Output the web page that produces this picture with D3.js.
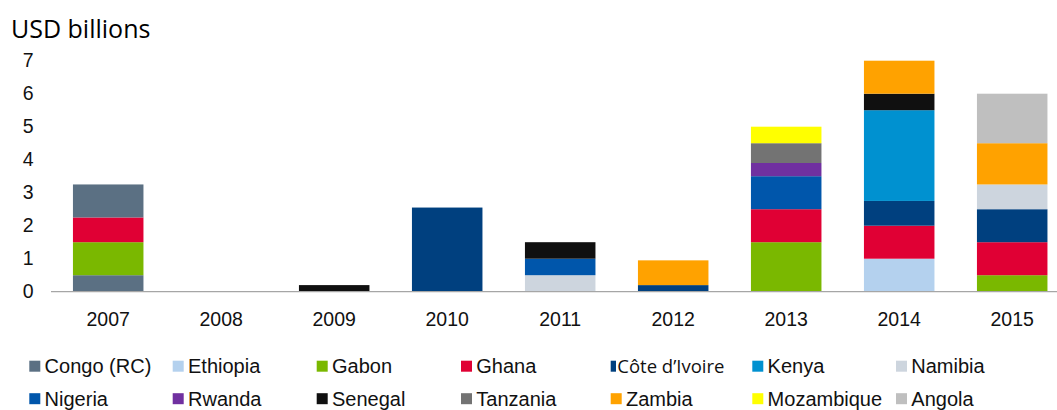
<!DOCTYPE html>
<html>
<head>
<meta charset="utf-8">
<script src="https://cdn.jsdelivr.net/npm/d3@7/dist/d3.min.js"></script>
<style>
  html, body { margin: 0; padding: 0; background: #fff; }
  svg { display: block; }
</style>
</head>
<body>
<svg id="chart" width="1057" height="410"></svg>
<script>
// Eurobond issuance by sub-Saharan African sovereigns, USD billions
const years = ["2007", "2008", "2009", "2010", "2011", "2012", "2013", "2014", "2015"];

const congoRC       = [0.5,  0, 0,   0,    0,   0,    0,   0,    0];
const ethiopia      = [0,    0, 0,   0,    0,   0,    0,   1.0,  0];
const gabon         = [1.0,  0, 0,   0,    0,   0,    1.5, 0,    0.5];
const ghana         = [0.75, 0, 0,   0,    0,   0,    1.0, 1.0,  1.0];
const coteDIvoire   = [0,    0, 0,   2.55, 0,   0.2,  0,   0.75, 1.0];
const kenya         = [0,    0, 0,   0,    0,   0,    0,   2.75, 0];
const namibia       = [0,    0, 0,   0,    0.5, 0,    0,   0,    0.75];
const nigeria       = [0,    0, 0,   0,    0.5, 0,    1.0, 0,    0];
const rwanda        = [0,    0, 0,   0,    0,   0,    0.4, 0,    0];
const senegal       = [0,    0, 0.2, 0,    0.5, 0,    0,   0.5,  0];
const tanzania      = [0,    0, 0,   0,    0,   0,    0.6, 0,    0];
const zambia        = [0,    0, 0,   0,    0,   0.75, 0,   1.0,  1.25];
const mozambique    = [0,    0, 0,   0,    0,   0,    0.5, 0,    0];
const angola        = [0,    0, 0,   0,    0,   0,    0,   0,    1.5];
// second Congo (RC) tranche in 2007, stacked on top of that year's bar
const congoRCSecond = [1.0,  0, 0,   0,    0,   0,    0,   0,    0];

const yTicks = [0, 1, 2, 3, 4, 5, 6, 7];

// legend entries, in the order they are listed (two rows of seven)
const legendNames = [
  "Congo (RC)", "Ethiopia", "Gabon", "Ghana", "Côte d’Ivoire", "Kenya", "Namibia",
  "Nigeria", "Rwanda", "Senegal", "Tanzania", "Zambia", "Mozambique", "Angola"
];

// stacking order, bottom to top
const series = [
  { key: "Congo (RC)",      values: congoRC },
  { key: "Ethiopia",        values: ethiopia },
  { key: "Gabon",           values: gabon },
  { key: "Ghana",           values: ghana },
  { key: "Côte d’Ivoire",   values: coteDIvoire },
  { key: "Kenya",           values: kenya },
  { key: "Namibia",         values: namibia },
  { key: "Nigeria",         values: nigeria },
  { key: "Rwanda",          values: rwanda },
  { key: "Senegal",         values: senegal },
  { key: "Tanzania",        values: tanzania },
  { key: "Zambia",          values: zambia },
  { key: "Mozambique",      values: mozambique },
  { key: "Angola",          values: angola },
  { key: "Congo (RC) II",   values: congoRCSecond }
];

const colors = {
  "Congo (RC)":    "#5b7083",
  "Ethiopia":      "#b4d1ee",
  "Gabon":         "#7ab800",
  "Ghana":         "#e00034",
  "Côte d’Ivoire": "#00407f",
  "Kenya":         "#0091d0",
  "Namibia":       "#cdd5de",
  "Nigeria":       "#0056ab",
  "Rwanda":        "#7030a0",
  "Senegal":       "#101010",
  "Tanzania":      "#737373",
  "Zambia":        "#ffa200",
  "Mozambique":    "#ffff00",
  "Angola":        "#bfbfbf",
  "Congo (RC) II": "#5b7083"
};

// ---- layout ----
const svg = d3.select("#chart");
const W = 1057, H = 410;
const axisFont = "'Liberation Sans', Arial, sans-serif";
const textColor = "#111";

const table = years.map((yr, i) => {
  const row = { year: yr };
  series.forEach(s => { row[s.key] = s.values[i]; });
  return row;
});

const x = d3.scaleBand()
  .domain(years)
  .range([51.7, 1068.7])
  .paddingInner(0.376)
  .paddingOuter(0.188);

const y = d3.scaleLinear().domain([0, 7]).range([291.7, 60.7]);

const stacked = d3.stack().keys(series.map(s => s.key))(table);

// bars
const g = svg.append("g");
g.selectAll("g.layer")
  .data(stacked)
  .join("g")
  .attr("class", "layer")
  .attr("fill", d => colors[d.key])
  .selectAll("rect")
  .data(d => d.filter(p => p[1] - p[0] > 0))
  .join("rect")
  .attr("x", d => x(d.data.year))
  .attr("width", x.bandwidth())
  .attr("y", d => y(d[1]))
  .attr("height", d => y(d[0]) - y(d[1]));

// baseline
svg.append("line")
  .attr("x1", 51).attr("x2", W)
  .attr("y1", y(0)).attr("y2", y(0))
  .attr("stroke", "#a6a6a6")
  .attr("stroke-width", 1.2);

// y axis labels (no axis line)
const yAxis = d3.axisLeft(y).tickValues(yTicks).tickFormat(d3.format("d")).tickSize(0).tickPadding(0);
const yG = svg.append("g").attr("transform", "translate(33.5,0)").call(yAxis);
yG.select(".domain").remove();
yG.selectAll("text")
  .attr("font-family", axisFont)
  .attr("font-size", 19.5)
  .attr("fill", textColor);

// x axis labels
const xAxis = d3.axisBottom(x).tickSize(0).tickPadding(0);
const xG = svg.append("g").call(xAxis);
xG.select(".domain").remove();
xG.selectAll("text")
  .attr("y", 326)
  .attr("dy", 0)
  .attr("font-family", axisFont)
  .attr("font-size", 19.5)
  .attr("fill", textColor);

// unit title
svg.append("text")
  .attr("x", 11)
  .attr("y", 37.5)
  .attr("font-family", "'Open Sans', sans-serif")
  .attr("font-size", 25)
  .attr("fill", "#000")
  .text("USD billions");

// legend
const colX = [29.3, 172.7, 316.7, 461, 610.7, 752.3, 896];
const rowY = [360.7, 393.2];
const legend = svg.append("g");
legendNames.forEach((name, i) => {
  const col = i % 7, row = Math.floor(i / 7);
  const narrow = name === "Côte d’Ivoire";
  const sw = narrow ? 5.3 : 11;
  legend.append("rect")
    .attr("x", colX[col])
    .attr("y", rowY[row])
    .attr("width", sw)
    .attr("height", 11)
    .attr("fill", colors[name]);
  legend.append("text")
    .attr("x", colX[col] + (narrow ? 6.6 : 15.3))
    .attr("y", rowY[row] + 12.4)
    .attr("font-family", narrow ? "'Open Sans', sans-serif" : axisFont)
    .attr("font-size", narrow ? 18.5 : 20)
    .attr("fill", textColor)
    .text(name);
});
</script>
</body>
</html>
